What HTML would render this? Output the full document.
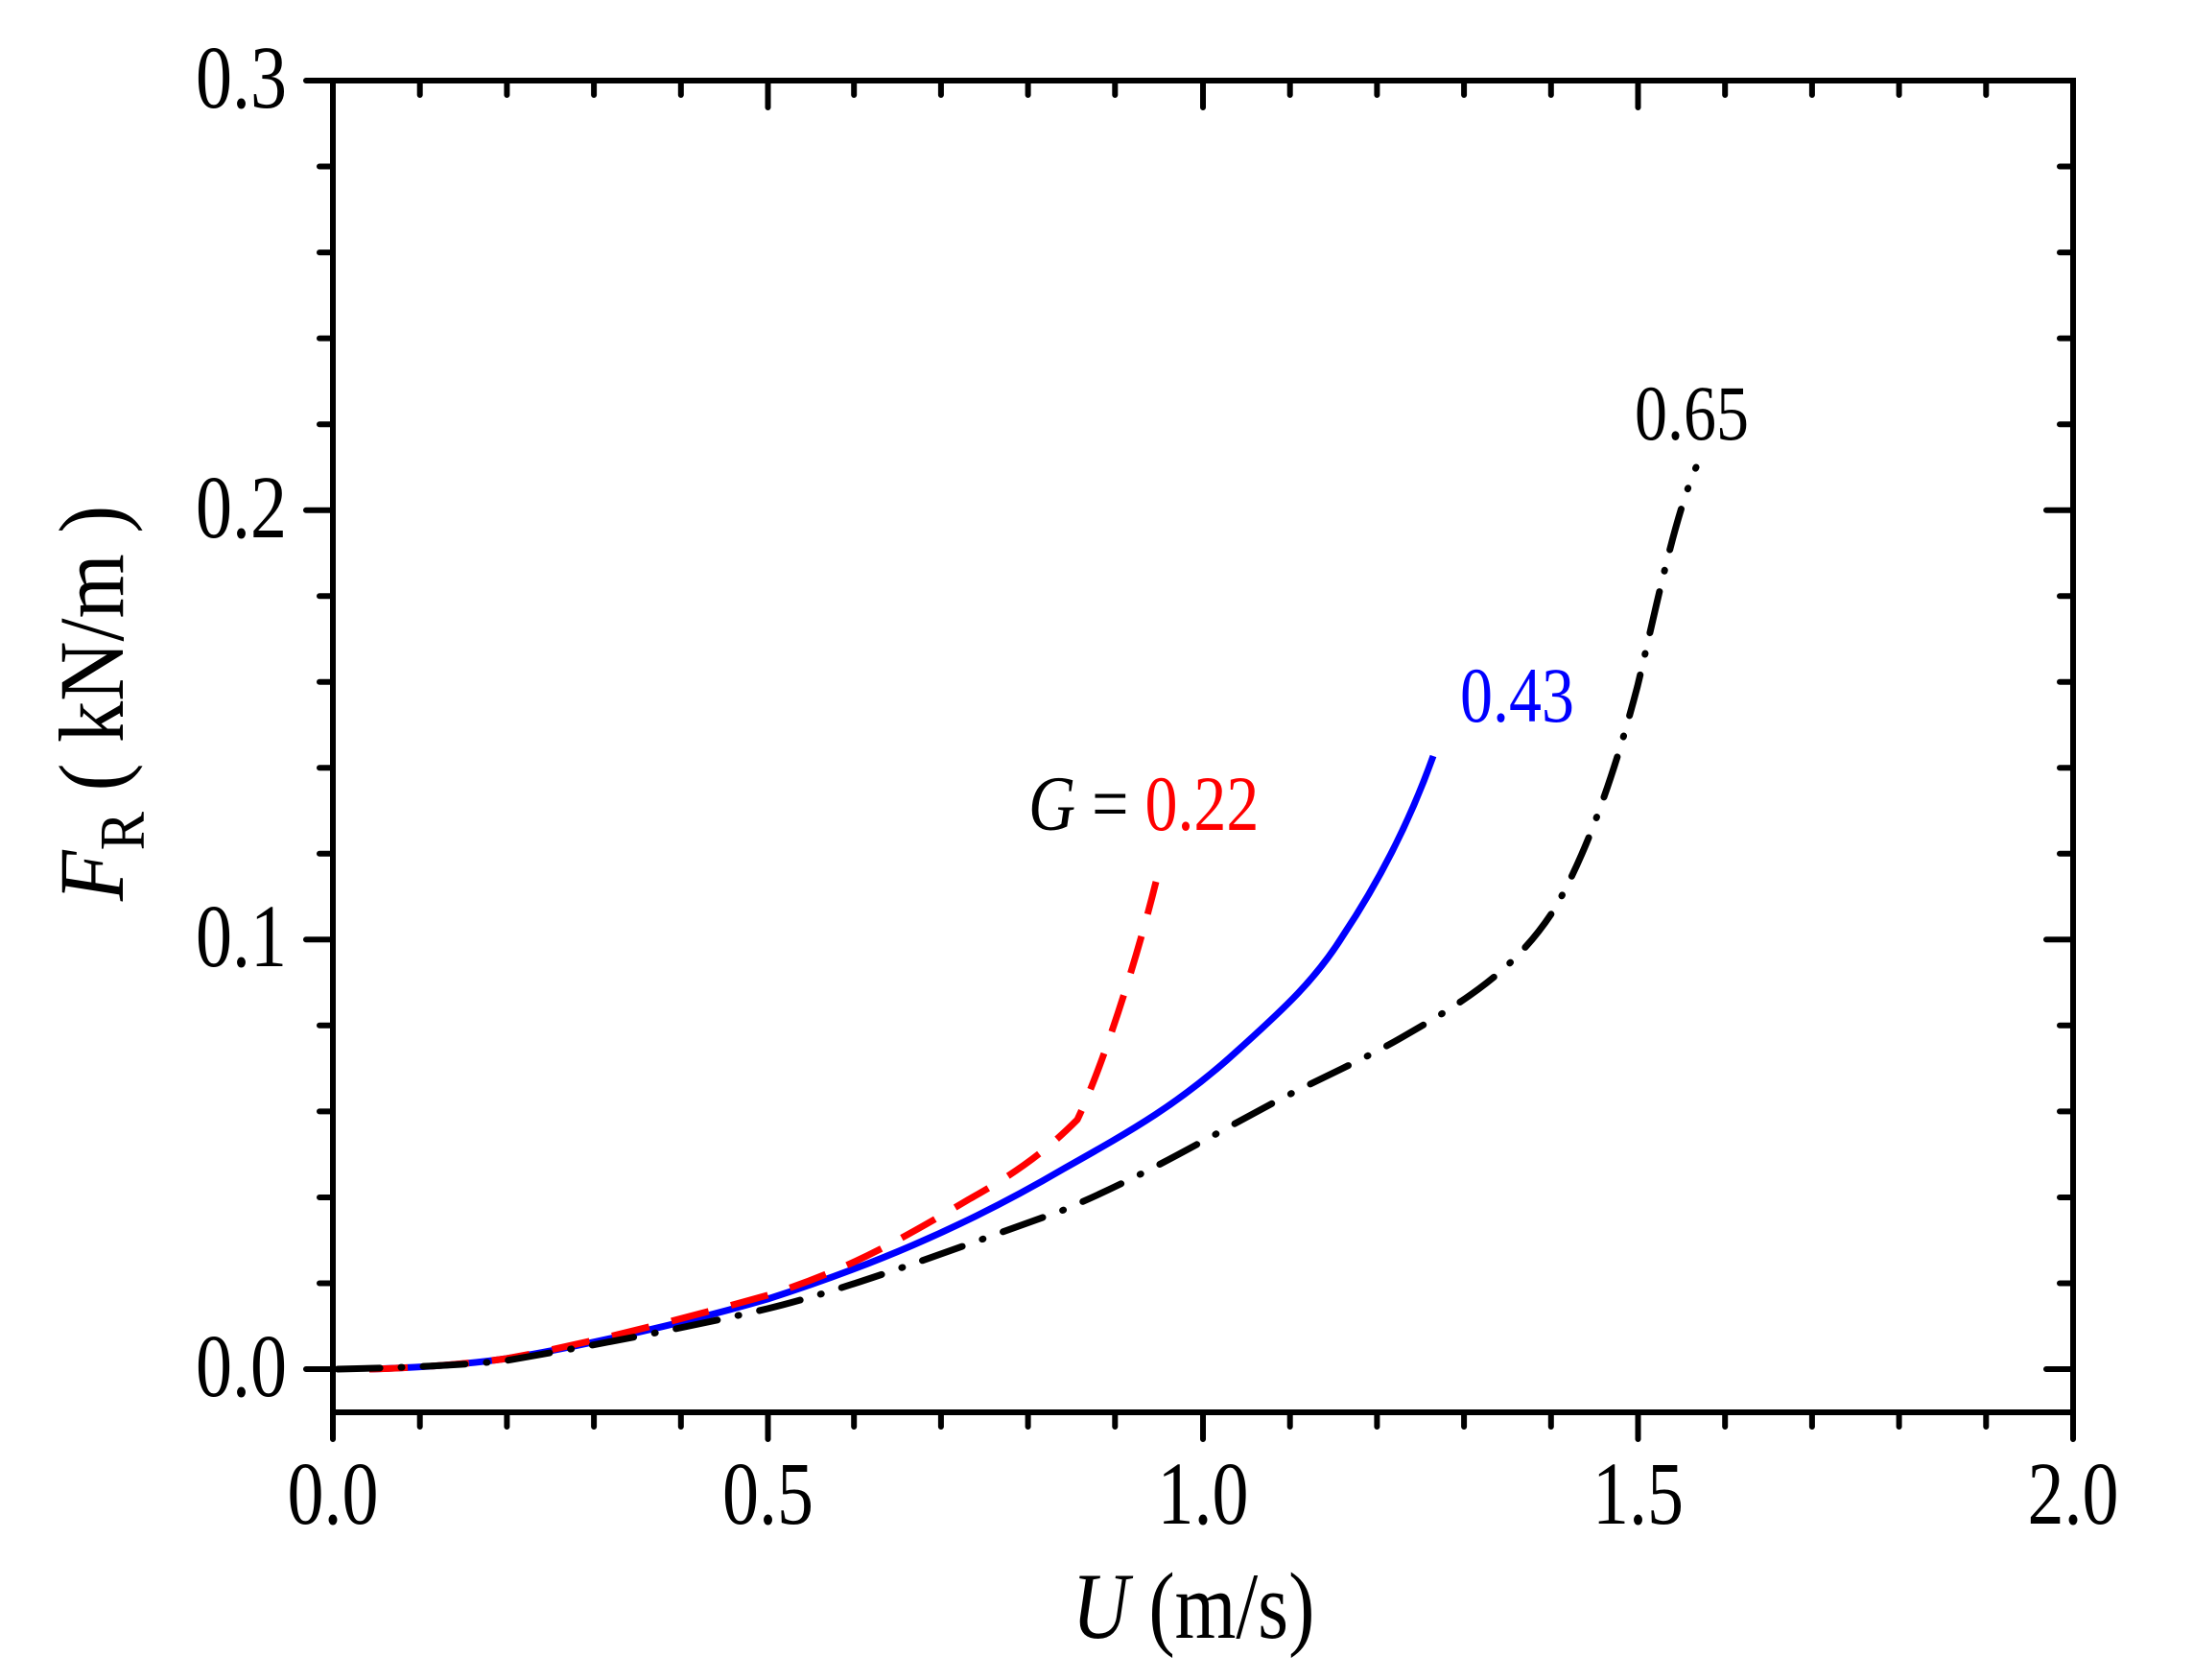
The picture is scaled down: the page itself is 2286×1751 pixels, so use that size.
<!DOCTYPE html>
<html><head><meta charset="utf-8"><style>html,body{margin:0;padding:0;background:#fff}svg{display:block}</style></head>
<body>
<svg width="2286" height="1751" viewBox="0 0 2286 1751" xmlns="http://www.w3.org/2000/svg" font-family="'Liberation Serif', serif">
<rect width="2286" height="1751" fill="#fff"/>
<g stroke="#000" stroke-width="6" fill="none" stroke-linecap="round">
<rect x="347" y="84" width="1814" height="1388"/>
<path d="M347 1472v28M800.5 1472v28M1254 1472v28M1707.5 1472v28M2161 1472v28"/>
<path d="M437.7 1472v15M528.4 1472v15M619.1 1472v15M709.8 1472v15M890.2 1472v15M980.9 1472v15M1071.6 1472v15M1162.3 1472v15M1344.7 1472v15M1435.4 1472v15M1526.1 1472v15M1616.8 1472v15M1798.2 1472v15M1888.9 1472v15M1979.6 1472v15M2070.3 1472v15"/>
<path d="M800.5 84v28M1254 84v28M1707.5 84v28"/>
<path d="M437.7 84v15M528.4 84v15M619.1 84v15M709.8 84v15M890.2 84v15M980.9 84v15M1071.6 84v15M1162.3 84v15M1344.7 84v15M1435.4 84v15M1526.1 84v15M1616.8 84v15M1798.2 84v15M1888.9 84v15M1979.6 84v15M2070.3 84v15"/>
<path d="M319 1427h28M319 979.3h28M319 531.7h28M319 84h28"/>
<path d="M333 1337.5h14M333 1248h14M333 1158.4h14M333 1068.8h14M333 889.8h14M333 800.3h14M333 710.8h14M333 621.2h14M333 442.2h14M333 352.6h14M333 263.1h14M333 173.5h14"/>
<path d="M2133 1427h28M2133 979.3h28M2133 531.7h28"/>
<path d="M2147 1337.5h14M2147 1248h14M2147 1158.4h14M2147 1068.8h14M2147 889.8h14M2147 800.3h14M2147 710.8h14M2147 621.2h14M2147 442.2h14M2147 352.6h14M2147 263.1h14M2147 173.5h14"/>
</g>
<g font-size="76" fill="#000">
<g text-anchor="middle">
<text transform="translate(347,1588) scale(1,1.22)">0.0</text>
<text transform="translate(800.5,1588) scale(1,1.22)">0.5</text>
<text transform="translate(1254,1588) scale(1,1.22)">1.0</text>
<text transform="translate(1707.5,1588) scale(1,1.22)">1.5</text>
<text transform="translate(2161,1588) scale(1,1.22)">2.0</text>
</g>
<g text-anchor="end">
<text transform="translate(299,1455) scale(1,1.22)">0.0</text>
<text transform="translate(299,1007) scale(1,1.22)">0.1</text>
<text transform="translate(299,560) scale(1,1.22)">0.2</text>
<text transform="translate(299,112) scale(1,1.22)">0.3</text>
</g>
</g>
<text transform="translate(1244,1707) scale(1,1.2)" font-size="82" text-anchor="middle"><tspan font-style="italic">U</tspan> (m/s)</text>
<text transform="translate(128,733) rotate(-90) scale(1.08,1.2)" font-size="80" text-anchor="middle"><tspan font-style="italic">F</tspan><tspan font-size="56" dy="18">R</tspan><tspan dy="-18"> ( kN/m )</tspan></text>
<g fill="none" stroke-width="7" stroke-linejoin="round">
<path stroke="#0000ff" d="M385,1427 C450,1425 500,1420 528,1416 C580,1408 700,1383 800,1354 C900,1322 1000,1282 1109,1218 C1180,1178 1230,1150 1290,1095 C1340,1050 1372,1020 1400,975 C1440,915 1470,855 1494,788"/>
<path stroke="#ff0000" stroke-dasharray="40,24" d="M385,1427 C450,1425 500,1420 528,1416 C600,1403 700,1378 800,1350 C880,1325 934,1295 1010,1250 C1060,1222 1090,1200 1123,1167 C1150,1110 1185,1000 1205,919"/>
<path stroke="#000" stroke-dasharray="44,22,1,22" stroke-linecap="round" d="M352,1427 C450,1425 500,1421 528,1418 C620,1402 720,1383 800,1364 C880,1345 1000,1300 1109,1261 C1200,1222 1260,1185 1330,1148 C1380,1122 1420,1105 1460,1082 C1530,1042 1580,1010 1620,948 C1660,880 1690,780 1707,715 C1725,640 1745,540 1768,487"/>
</g>
<text transform="translate(1704,458) scale(1,1.2)" font-size="68">0.65</text>
<text transform="translate(1522,752) scale(1,1.2)" font-size="68" fill="#0000ff">0.43</text>
<text transform="translate(1072,865) scale(1,1.2)" font-size="68"><tspan font-style="italic">G</tspan> = <tspan fill="#ff0000">0.22</tspan></text>
</svg>
</body></html>
